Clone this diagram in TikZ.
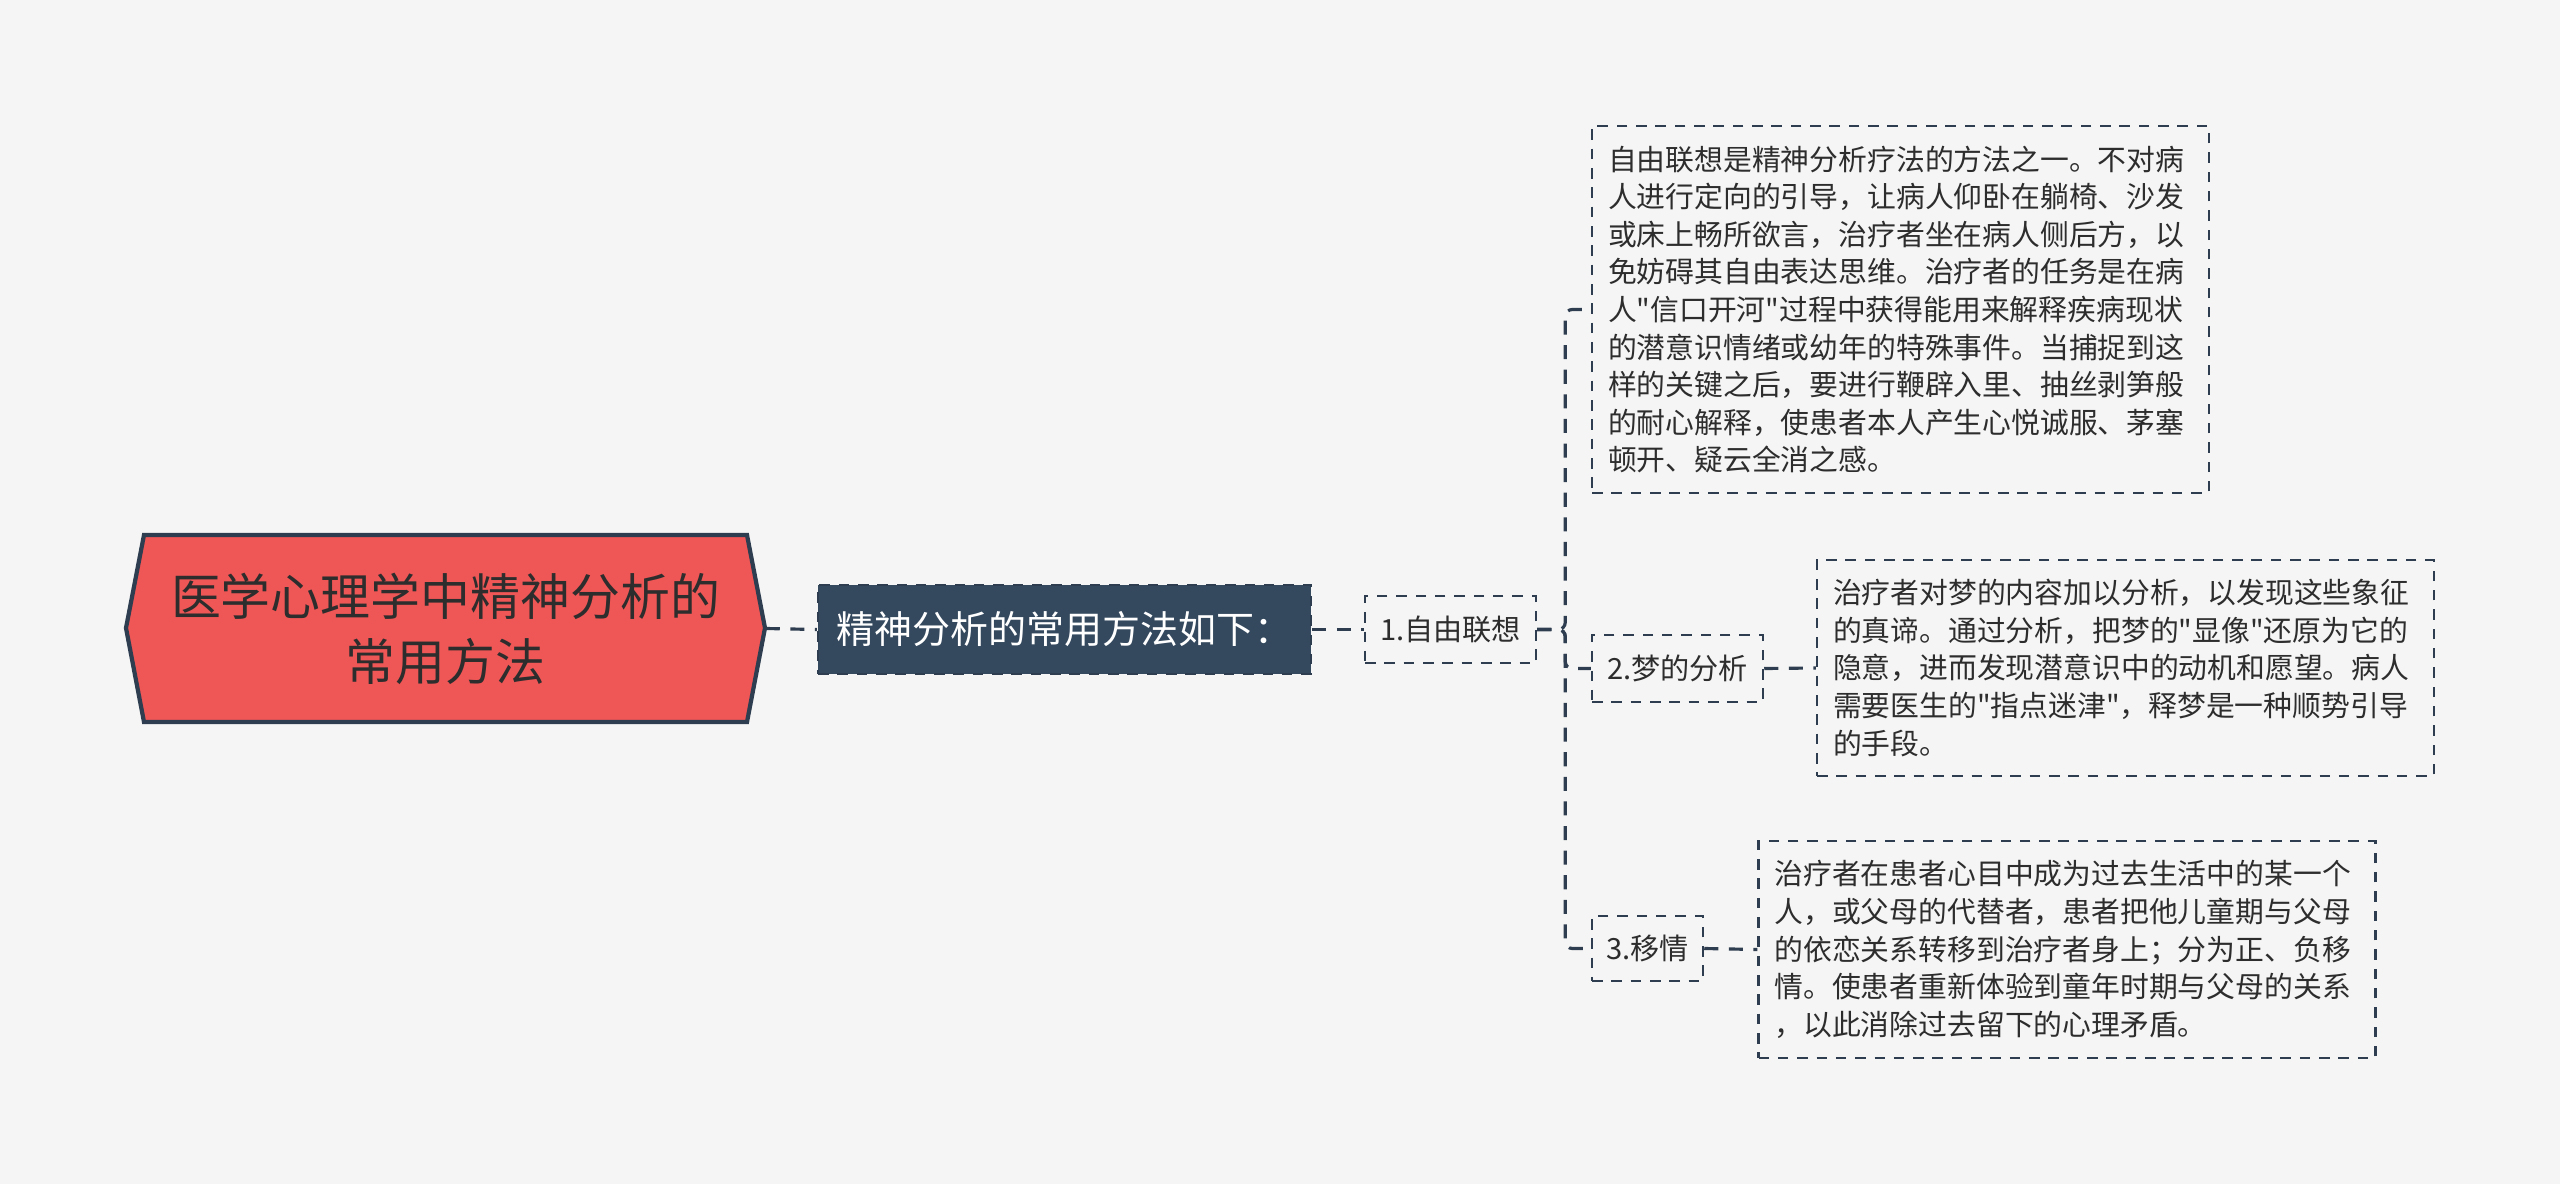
\documentclass[tikz,border=0pt]{standalone}
\usepackage{fontspec}
\setmainfont{Noto Sans CJK SC}[Ligatures=TeXOff]
\usepackage{tikz}
\usetikzlibrary{shapes,arrows}
\definecolor{bgcol}{HTML}{F5F5F5}
\definecolor{linecol}{HTML}{2E3E50}
\definecolor{rootred}{HTML}{EF5656}
\definecolor{slate}{HTML}{34495E}
\definecolor{txt}{HTML}{2D2D2D}
\tikzstyle{line} = [draw=linecol, line width=0.9pt, dash pattern=on 4pt off 3pt, rounded corners=2pt]
\tikzstyle{topic} = [rectangle, draw=linecol, line width=0.7pt, dash pattern=on 3pt off 2.5pt, inner sep=0pt, align=center, text=txt, font=\fontsize{8.3pt}{10.7pt}\selectfont]
\tikzstyle{note} = [topic, align=left, text width=5.85cm, inner xsep=0.16cm, font=\fontsize{8.2pt}{10.7pt}\selectfont]

\begin{document}
\begin{tikzpicture}
        \useasboundingbox (0,0) rectangle (25.6,-11.84);
        \fill[bgcol] (0,0) rectangle (25.6,-11.84);
        
        % root
        \filldraw[fill=rootred, draw=linecol, line width=1.2pt] (1.26,-6.28) -- (1.44,-5.35) -- (7.47,-5.35) -- (7.65,-6.28) -- (7.47,-7.22) -- (1.44,-7.22) -- cycle;
        \node (root) [rectangle, minimum width=6.39cm, minimum height=1.87cm, align=center, text=txt, font=\fontsize{14.2pt}{18.5pt}\selectfont] at (4.455,-6.285) {医学心理学中精神分析的\\常用方法};
        
        \node (methods) [topic, fill=slate, text=white, minimum width=4.93cm, minimum height=0.89cm, font=\fontsize{10.8pt}{12pt}\selectfont] at (10.645,-6.295) {精神分析的常用方法如下：};
        \node (1) [topic, minimum width=1.71cm, minimum height=0.67cm] at (14.505,-6.295) {1.自由联想};
        \node (d1) [note, minimum height=3.67cm] at (19.005,-3.095) {自由联想是精神分析疗法的方法之一。不对病\\人进行定向的引导，让病人仰卧在躺椅、沙发\\或床上畅所欲言，治疗者坐在病人侧后方，以\\免妨碍其自由表达思维。治疗者的任务是在病\\人"信口开河"过程中获得能用来解释疾病现状\\的潜意识情绪或幼年的特殊事件。当捕捉到这\\样的关键之后，要进行鞭辟入里、抽丝剥笋般\\的耐心解释，使患者本人产生心悦诚服、茅塞\\顿开、疑云全消之感。};
        \node (2) [topic, minimum width=1.71cm, minimum height=0.67cm] at (16.775,-6.685) {2.梦的分析};
        \node (d2) [note, minimum height=2.16cm] at (21.255,-6.68) {治疗者对梦的内容加以分析，以发现这些象征\\的真谛。通过分析，把梦的"显像"还原为它的\\隐意，进而发现潜意识中的动机和愿望。病人\\需要医生的"指点迷津"，释梦是一种顺势引导\\的手段。};
        \node (3) [topic, minimum width=1.11cm, minimum height=0.65cm] at (16.475,-9.485) {3.移情};
        \node (d3) [note, minimum height=2.17cm] at (20.67,-9.495) {治疗者在患者心目中成为过去生活中的某一个\\人，或父母的代替者，患者把他儿童期与父母\\的依恋关系转移到治疗者身上；分为正、负移\\情。使患者重新体验到童年时期与父母的关系\\，以此消除过去留下的心理矛盾。};
        
        \draw[line] (root.east) -- (methods.west);
        \draw[line] (methods.east) -- (1.west);
        \draw[line] (1.east) -- ++(0.28,0) |- (d1.west);
        \draw[line] (1.east) -- ++(0.28,0) |- (2.west);
        \draw[line] (1.east) -- ++(0.28,0) |- (3.west);
        \draw[line] (2.east) -- (d2.west);
        \draw[line] (3.east) -- (d3.west);
        
    \end{tikzpicture}
\end{document}
